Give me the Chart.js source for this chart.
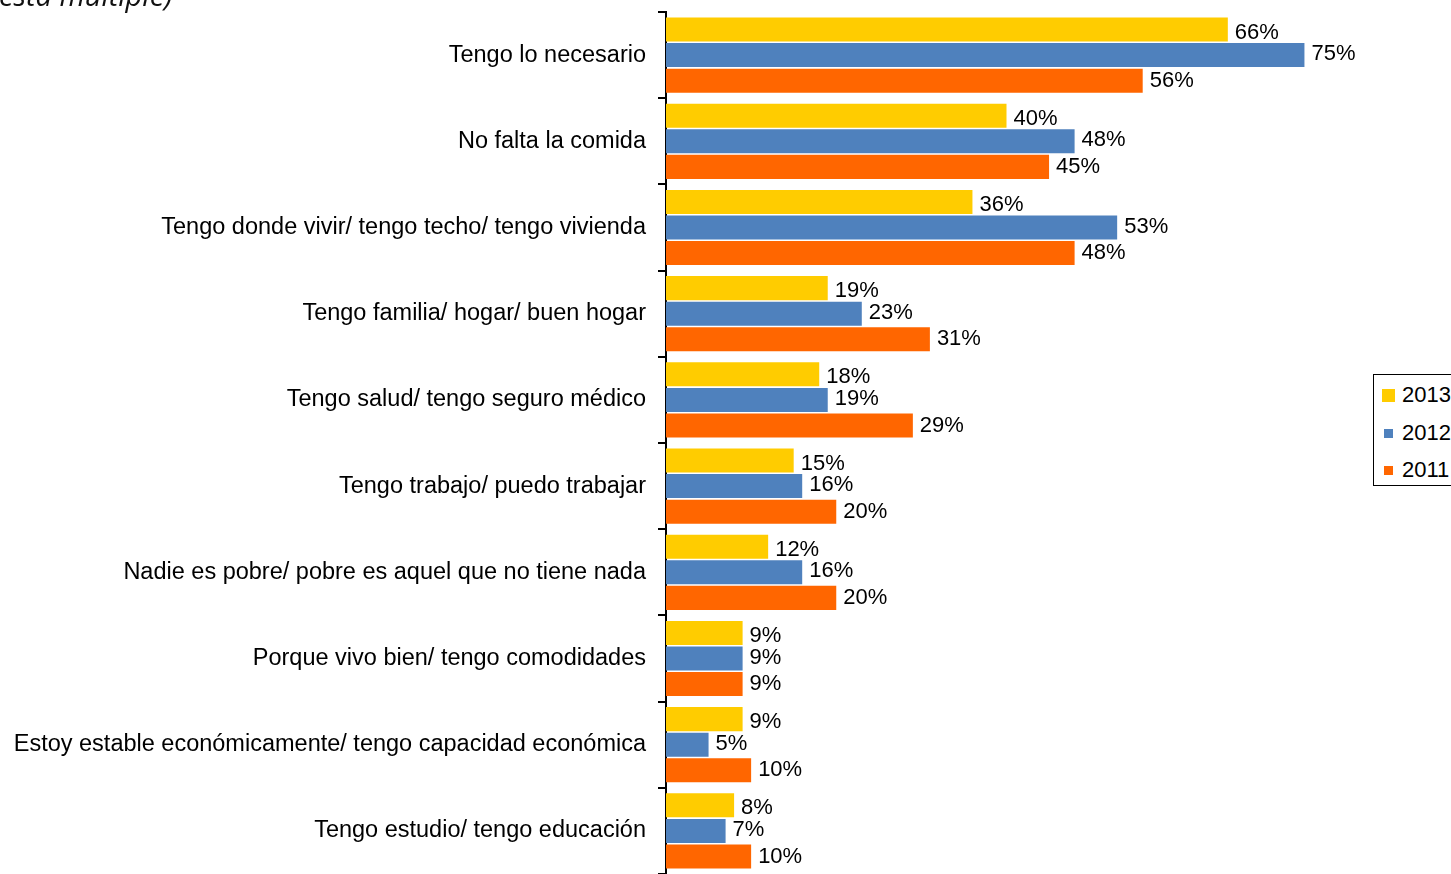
<!DOCTYPE html>
<html>
<head>
<meta charset="utf-8">
<script src="https://cdn.jsdelivr.net/npm/chart.js@4"></script>
<style>
  html, body { margin: 0; padding: 0; background: #fff; overflow: hidden; }
  #wrap { position: relative; width: 1451px; height: 874px; overflow: hidden; }
  #c { position: absolute; left: 0; top: 0; }
  #topnote { position: absolute; left: -1px; top: -25px; font-family: "Open Sans", "DejaVu Sans", sans-serif; font-style: italic; font-size: 29px; color: #111; white-space: nowrap; }
  #legend { position: absolute; left: 1373px; top: 374px; width: 100px; height: 112px; border: 1.5px solid #000; box-sizing: border-box; background: #fff; font-family: "Liberation Sans", Arial, sans-serif; font-size: 22px; color: #000; }
  .item { position: absolute; left: 0; height: 26px; line-height: 26px; white-space: nowrap; }
  .sw { position: absolute; display: block; }
  .lab { position: absolute; left: 28px; top: 0; }
</style>
</head>
<body>
<div id="wrap">
  <canvas id="c" width="1451" height="874"></canvas>
  <div id="topnote">esta múltiple)</div>
  <div id="legend"></div>
</div>
<script>
const categories = [
  "Tengo lo necesario",
  "No falta la comida",
  "Tengo donde vivir/ tengo techo/ tengo vivienda",
  "Tengo familia/ hogar/ buen hogar",
  "Tengo salud/ tengo seguro médico",
  "Tengo trabajo/ puedo trabajar",
  "Nadie es pobre/ pobre es aquel que no tiene nada",
  "Porque vivo bien/ tengo comodidades",
  "Estoy estable económicamente/ tengo capacidad económica",
  "Tengo estudio/ tengo educación"
];
const seriesNames = ["2013", "2012", "2011"];
const values2013 = [66, 40, 36, 19, 18, 15, 12, 9, 9, 8];
const values2012 = [75, 48, 53, 23, 19, 16, 16, 9, 5, 7];
const values2011 = [56, 45, 48, 31, 29, 20, 20, 9, 10, 10];
const colors = ["#FFCC00", "#4F81BD", "#FF6600"];

const allValues = [values2013, values2012, values2011];

const labelPlugin = {
  id: 'valueLabels',
  afterDatasetsDraw(chart) {
    const ctx = chart.ctx;
    ctx.save();
    ctx.font = '22px "Liberation Sans", Arial, sans-serif';
    ctx.fillStyle = '#000';
    ctx.textAlign = 'left';
    ctx.textBaseline = 'middle';
    chart.data.datasets.forEach((ds, di) => {
      const meta = chart.getDatasetMeta(di);
      meta.data.forEach((bar, i) => {
        const dy = di === 0 ? 3 : (di === 1 ? -1 : 0);
        ctx.fillText(ds.data[i] + '%', bar.x + 7, bar.y + dy);
      });
    });
    ctx.restore();
  }
};

new Chart(document.getElementById('c'), {
  type: 'bar',
  data: {
    labels: categories,
    datasets: seriesNames.map((n, k) => ({
      label: n,
      data: allValues[k],
      backgroundColor: colors[k],
      borderWidth: 0,
      barPercentage: 0.94,
      categoryPercentage: 0.89
    }))
  },
  options: {
    indexAxis: 'y',
    responsive: false,
    animation: false,
    layout: { padding: { top: 12, bottom: 0, left: 0, right: 104 } },
    plugins: { legend: { display: false }, tooltip: { enabled: false } },
    scales: {
      x: {
        display: false,
        min: 0,
        max: 80
      },
      y: {
        offset: true,
        afterFit(s) { s.width = 666; s.paddingTop = 0; s.paddingBottom = 0; },
        grid: {
          display: true,
          offset: true,
          drawOnChartArea: false,
          drawTicks: true,
          tickLength: 8,
          color: '#000',
          lineWidth: 2
        },
        border: { display: true, color: '#000', width: 2 },
        ticks: {
          color: '#000',
          padding: 12,
          autoSkip: false,
          font: { family: '"Liberation Sans", Arial, sans-serif', size: 23.5 }
        }
      }
    }
  },
  plugins: [labelPlugin]
});

// legend (HTML)
const leg = document.getElementById('legend');
const tops = [7, 45, 82];
const swSize = [13, 9, 9];
seriesNames.forEach((n, k) => {
  const it = document.createElement('div');
  it.className = 'item';
  it.style.top = tops[k] + 'px';
  const sw = document.createElement('span');
  sw.className = 'sw';
  sw.style.background = colors[k];
  sw.style.width = swSize[k] + 'px';
  sw.style.height = swSize[k] + 'px';
  sw.style.left = (k === 0 ? 8 : 10) + 'px';
  sw.style.top = (13 - swSize[k] / 2) + 'px';
  const lb = document.createElement('span');
  lb.className = 'lab';
  lb.textContent = n;
  it.appendChild(sw);
  it.appendChild(lb);
  leg.appendChild(it);
});
</script>
</body>
</html>
